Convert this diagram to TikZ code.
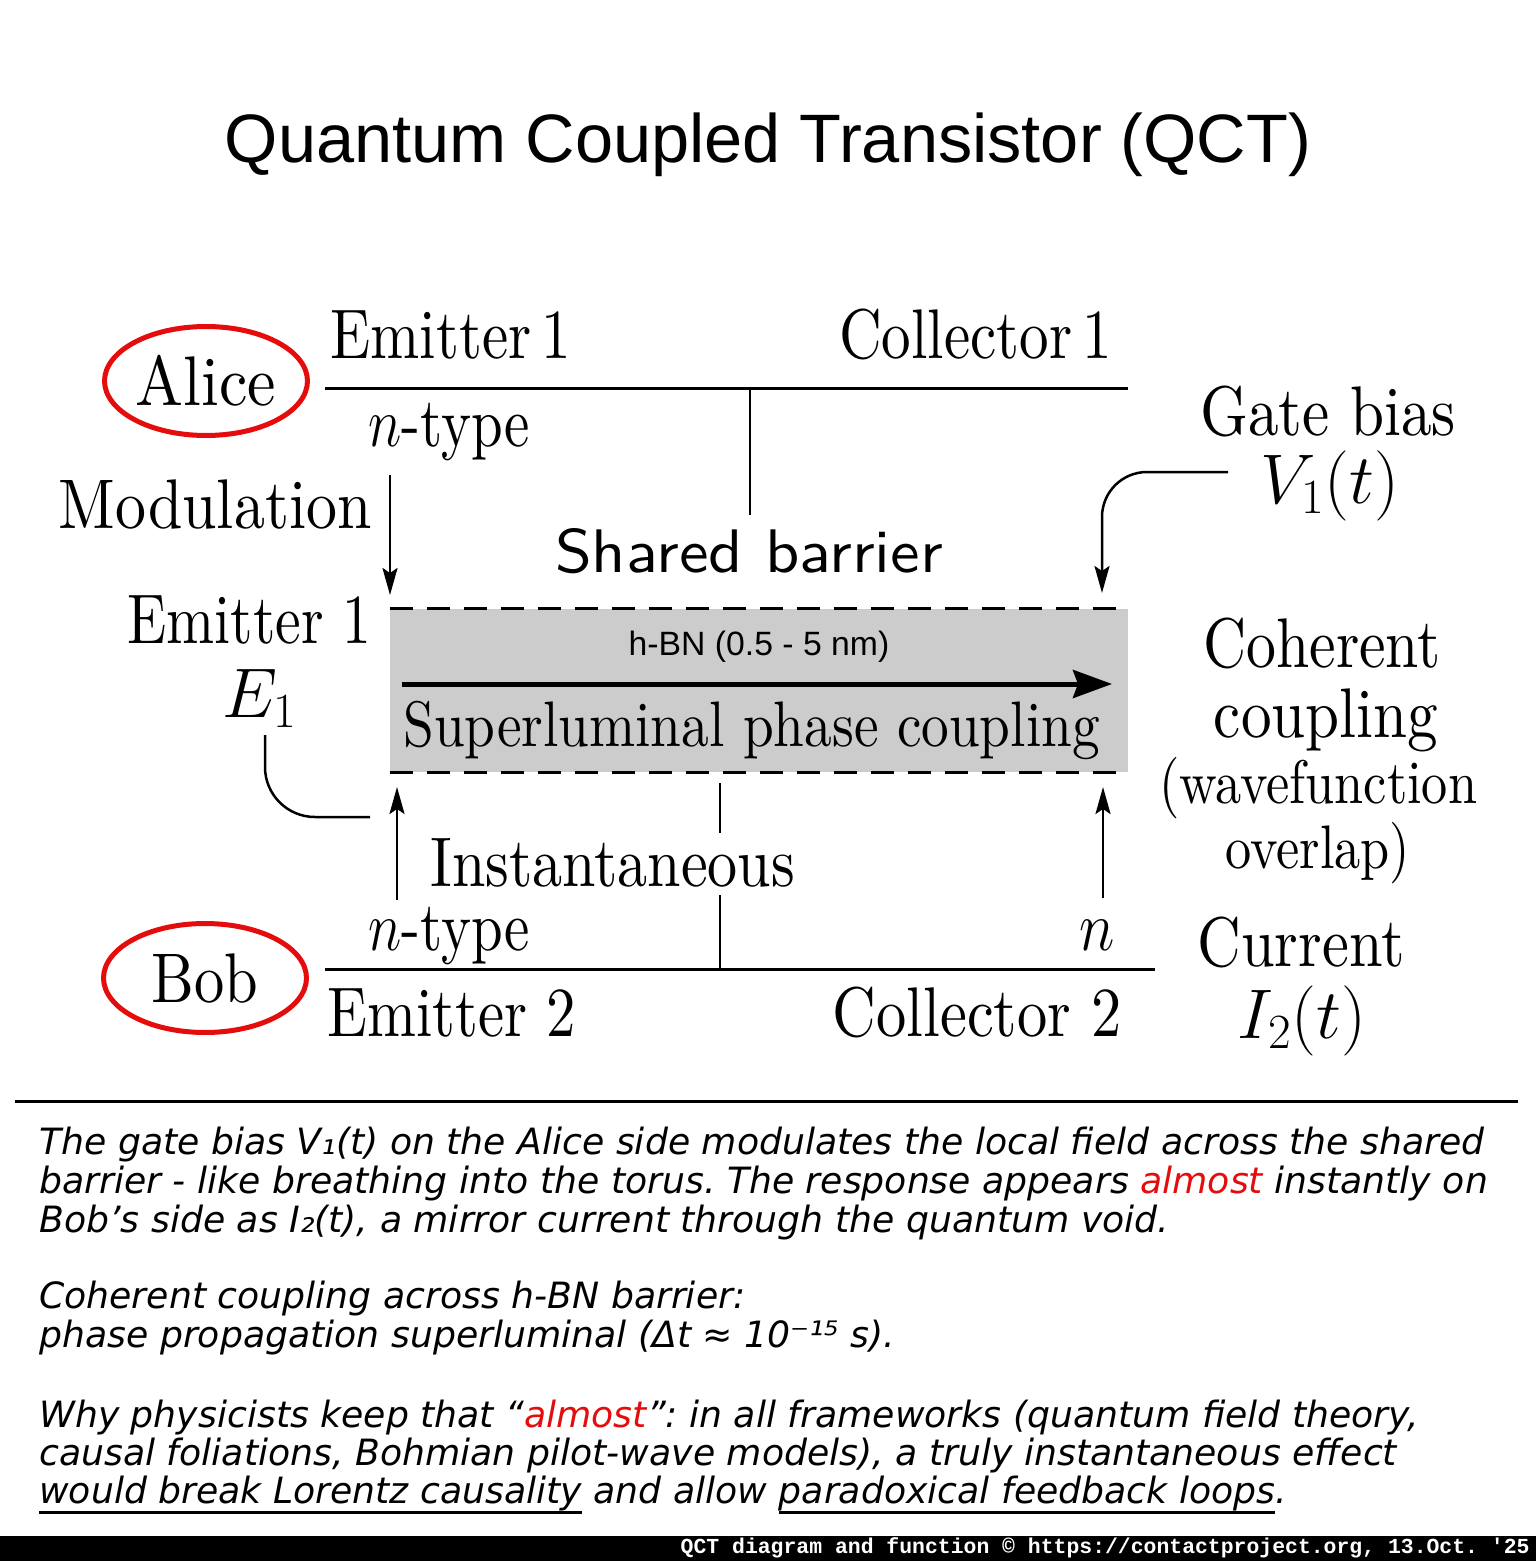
\documentclass[tikz,border=0pt]{standalone}
\usepackage{fix-cm}
\usepackage{fontspec}
\usepackage{graphicx}
\usetikzlibrary{arrows.meta,shapes.geometric}
\setmainfont{lmroman10-regular.otf}
\setsansfont{lmsans10-regular.otf}
\newfontfamily\titlefont{Liberation Sans}
\newfontfamily\parafont{DejaVu Sans}
\newfontfamily\footfont{Liberation Mono}
\definecolor{myred}{RGB}{228,12,12}
\definecolor{mygray}{RGB}{204,204,204}
\newcommand{\sq}[2][0.86]{\scalebox{#1}[1]{#2}}
\newcommand{\underl}[1]{\vtop{\hbox{#1}\kern0.3pt\hrule height 1.7pt}}
\frenchspacing
\tikzset{
  big/.style={inner sep=0pt, font=\fontsize{40}{44}\selectfont},
  mid/.style={inner sep=0pt, font=\fontsize{35}{40}\selectfont},
  person/.style={ellipse, draw=myred, line width=0.1cm, minimum width=4.06cm,
    minimum height=2.18cm, inner sep=0pt, font=\fontsize{40}{44}\selectfont},
  barrier/.style={fill=mygray, minimum width=14.76cm, minimum height=3.26cm, inner sep=0pt},
  para/.style={anchor=base west, inner sep=0pt, font=\parafont\itshape\fontsize{20.6}{22}\selectfont},
  bus/.style={line width=0.06cm},
  stem/.style={line width=0.045cm},
  thinarrow/.style={line width=0.05cm, -{Stealth[length=0.54cm,width=0.3cm,inset=0.1cm]}},
  dashline/.style={line width=0.07cm, dash pattern=on 0.46cm off 0.28cm},
}

\begin{document}
\begin{tikzpicture}[x=0.02cm,y=-0.02cm]
    \useasboundingbox (0,0) rectangle (1536,1561);
    % Title
    \node[anchor=base, inner sep=0pt, font=\titlefont\fontsize{39}{44}\selectfont] (title) at (768,163) {Quantum Coupled Transistor (QCT)};
    % Alice and Bob
    \node[person] (alice) at (206,381) {\sq[0.91]{Alice}};
    \node[person] (bob) at (205,978) {\sq{Bob}};
    % Top rail (emitter 1 -- collector 1)
    \coordinate (e1) at (325,388);
    \coordinate (c1) at (1128,388);
    \coordinate (s1) at (750,388);
    \coordinate (s1end) at (750,515);
    \draw[bus] (e1) -- (c1);
    \draw[stem] (s1) -- (s1end);
    \node[big, anchor=base west] (emit1) at (330,358) {\sq[0.84]{Emitter\,1}};
    \node[big, anchor=base east] (coll1) at (1112,358) {\sq[0.84]{Collector\,1}};
    \node[big, anchor=base west] (ntop) at (368,446) {\sq[0.81]{$n$-type}};
    % Modulation arrow
    \node[big, anchor=base east] (mod) at (372,528) {\sq[0.88]{Modulation}};
    \coordinate (modtop) at (390,475);
    \coordinate (modtip) at (390,595);
    \draw[thinarrow] (modtop) -- (modtip);
    \node[anchor=base, inner sep=0pt, font=\sffamily\fontsize{35}{40}\selectfont] (shared) at (749,572) {\sq[1.08]{Shared barrier}};
    % Gate bias
    \node[big, anchor=base] (gate) at (1328,435) {\sq[0.87]{Gate bias}};
    \node[big, anchor=base] (volt) at (1330,503) {\sq[1]{$V_1(t)$}};
    \coordinate (gatestart) at (1228,472);
    \coordinate (gatetip) at (1102,593);
    \draw[thinarrow, rounded corners=0.9cm] (gatestart) -| (gatetip);
    % Barrier
    \node[barrier] (bar) at (759,690.5) {};
    \draw[dashline] (bar.north west) -- ([xshift=-0.12cm]bar.north east);
    \draw[dashline] (bar.south west) -- (bar.south east);
    \node[anchor=base, inner sep=0pt, font=\titlefont\fontsize{19.2}{22}\selectfont] (hbn) at (759,655) {h-BN (0.5 - 5 nm)};
    \coordinate (phasestart) at (402,684);
    \coordinate (phasetip) at (1112,684);
    \draw[line width=0.1cm, -{Stealth[length=0.78cm,width=0.56cm,inset=0.1cm]}] (phasestart) -- (phasetip);
    \node[anchor=base west, inner sep=0pt, font=\fontsize{36.6}{40}\selectfont] (phase) at (403,746) {\sq{Superluminal phase coupling}};
    % Emitter 1 (left)
    \node[big, anchor=base east] (emitleft) at (372,643) {\sq[0.82]{Emitter 1}};
    \node[big, anchor=base] (eone) at (260,717) {\sq[1]{$E_1$}};
    \coordinate (eonebot) at (265,735);
    \coordinate (eoneend) at (370,817);
    \draw[line width=0.05cm, rounded corners=1cm] (eonebot) |- (eoneend);
    % Coherent coupling
    \node[big, anchor=base] (coh) at (1322,667) {\sq[0.85]{Coherent}};
    \node[big, anchor=base] (coup) at (1326,737) {\sq[0.87]{coupling}};
    \node[mid, anchor=base] (wave) at (1318,803) {\sq[0.85]{(wavefunction}};
    \node[mid, anchor=base] (over) at (1318,868) {\sq[0.85]{overlap)}};
    % Upward arrows
    \coordinate (upLbot) at (397,900);
    \coordinate (upLtip) at (397,787);
    \coordinate (upRbot) at (1103,898);
    \coordinate (upRtip) at (1103,787);
    \draw[thinarrow] (upLbot) -- (upLtip);
    \draw[thinarrow] (upRbot) -- (upRtip);
    \node[big, anchor=base west] (inst) at (430,886) {\sq[0.855]{Instantaneous}};
    % Bottom rail (emitter 2 -- collector 2)
    \coordinate (e2) at (325,969);
    \coordinate (c2) at (1155,969);
    \coordinate (s2) at (720,969);
    \coordinate (s2top) at (720,895);
    \coordinate (s2a) at (720,783);
    \coordinate (s2b) at (720,833);
    \draw[bus] (e2) -- (c2);
    \draw[stem] (s2) -- (s2top);
    \draw[stem] (s2a) -- (s2b);
    \node[big, anchor=base west] (nbot) at (368,950) {\sq[0.81]{$n$-type}};
    \node[big, anchor=base east] (nright) at (1115,950) {\sq{$n$}};
    \node[big, anchor=base west] (emit2) at (327,1036) {\sq[0.835]{Emitter 2}};
    \node[big, anchor=base east] (coll2) at (1122,1036) {\sq{Collector 2}};
    \node[big, anchor=base] (curr) at (1301,966) {\sq{Current}};
    \node[big, anchor=base] (amp) at (1302,1038) {\sq[1]{$I_2(t)$}};
    % Caption
    \draw[bus] (15,1101) -- (1518,1101);
    \node[para] (p1) at (39,1154) {The gate bias V₁(t) on the Alice side modulates the local field across the shared};
    \node[para] (p2) at (39,1193) {barrier - like breathing into the torus. The response appears {\color{myred}almost} instantly on};
    \node[para] (p3) at (39,1232) {Bob’s side as I₂(t), a mirror current through the quantum void.};
    \node[para] (p4) at (39,1308) {Coherent coupling across h-BN barrier:};
    \node[para] (p5) at (39,1347) {phase propagation superluminal (Δt ≈ 10⁻¹⁵ s).};
    \node[para] (p6) at (39,1427) {Why physicists keep that “{\color{myred}almost}”: in all frameworks (quantum field theory,};
    \node[para] (p7) at (39,1465) {causal foliations, Bohmian pilot-wave models), a truly instantaneous effect};
    \node[para] (p8) at (39,1503) {\underl{would break Lorentz causality} and allow \underl{paradoxical feedback loops}.};
    % Footer bar
    \fill (0,1536) rectangle (1536,1561);
    \node[anchor=base east, inner sep=0pt, text=white, font=\footfont\bfseries\fontsize{12.2}{14}\selectfont] (foot) at (1530,1553) {QCT diagram and function © https://contactproject.org, 13.Oct. \textquotesingle25};
\end{tikzpicture}
\end{document}
